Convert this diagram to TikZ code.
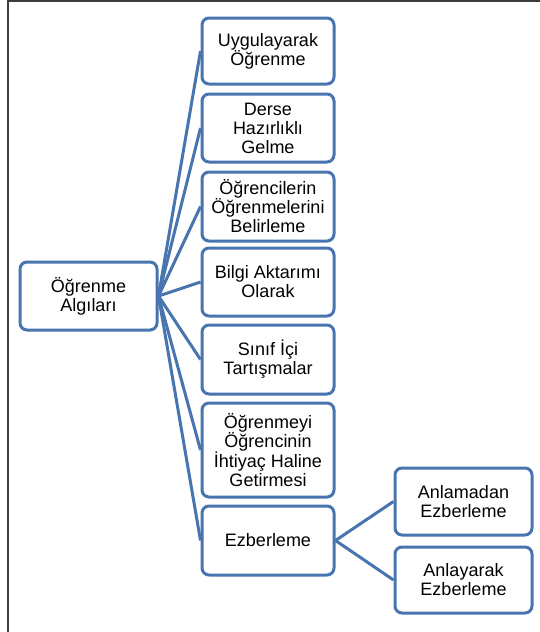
\documentclass[tikz,border=0pt]{standalone}
\usepackage{fontspec}
\setmainfont{Liberation Sans}
\usetikzlibrary{backgrounds}
\definecolor{accent}{RGB}{72,117,175}
\definecolor{framegray}{RGB}{60,60,60}
\begin{document}
\begin{tikzpicture}[x=1pt,y=-1pt,
  box/.style={draw=accent, line width=3pt, rounded corners=7pt, fill=white,
    align=center, inner sep=0pt, font=\fontsize{18}{19}\selectfont},
  colbox/.style={box, minimum width=132pt},
  sidebox/.style={box, minimum width=137pt},
  link/.style={draw=accent, line width=3pt},
  frame/.style={draw=framegray, line width=1.6pt}]
\useasboundingbox (0,0) rectangle (540,632);

% root
\node[sidebox, minimum height=68pt] (root) at (88.5,296) {Öğrenme\\Algıları};

% first level
\node[colbox, minimum height=66pt] (b1) at (268,51) {Uygulayarak\\Öğrenme};
\node[colbox, minimum height=68pt] (b2) at (268,128) {Derse\\Hazırlıklı\\Gelme};
\node[colbox, minimum height=69pt] (b3) at (268,206.5) {Öğrencilerin\\Öğrenmelerini\\Belirleme};
\node[colbox, minimum height=68pt] (b4) at (268,282) {Bilgi Aktarımı\\Olarak};
\node[colbox, minimum height=69pt] (b5) at (268,359.5) {Sınıf İçi\\Tartışmalar};
\node[colbox, minimum height=94pt] (b6) at (268,450) {Öğrenmeyi\\Öğrencinin\\İhtiyaç Haline\\Getirmesi};
\node[colbox, minimum height=69pt] (b7) at (268,540.5) {Ezberleme};

% second level
\node[sidebox, minimum height=67pt] (r1) at (463.5,501.5) {Anlamadan\\Ezberleme};
\node[sidebox, minimum height=66pt] (r2) at (463.5,580) {Anlayarak\\Ezberleme};

% connectors and page frame behind the boxes
\begin{pgfonlayer}{background}
\fill[white] (0,0) rectangle (540,632);
\draw[frame] (8,633) -- (8,1) -- (541,1);
\foreach \b in {b1,b2,b3,b4,b5,b6,b7}
  \draw[link] (root.east) -- (\b.west);
\draw[link] (b7.east) -- (r1.west);
\draw[link] (b7.east) -- (r2.west);
\end{pgfonlayer}
\end{tikzpicture}
\end{document}
